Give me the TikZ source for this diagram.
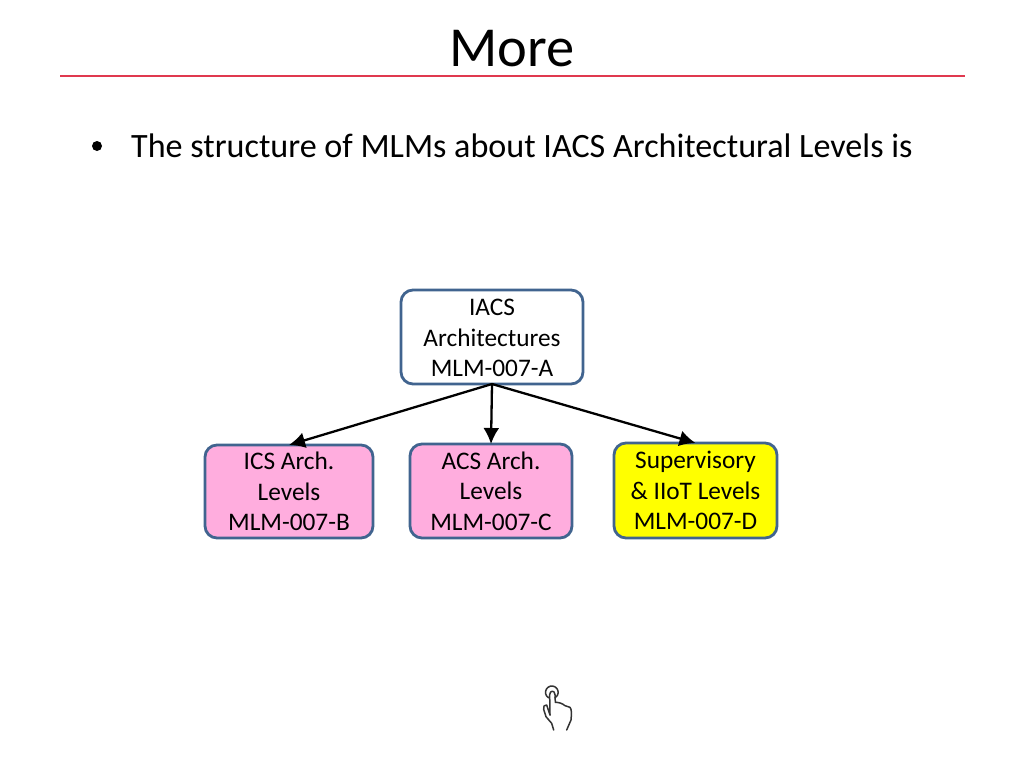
\documentclass[tikz,border=0pt]{standalone}
\usepackage{fontspec}
\setmainfont{Carlito}
\usetikzlibrary{arrows.meta}
\definecolor{edgeblue}{HTML}{41648F}
\definecolor{rulered}{HTML}{E0394F}
\definecolor{boxpink}{HTML}{FFADDE}
\definecolor{boxyellow}{HTML}{FFFF00}
\tikzset{
  mlmbox/.style={draw=edgeblue,line width=2.8pt,rounded corners=12pt,inner sep=0pt,outer sep=0pt,align=center,
    font=\fontsize{25.3}{30.6}\selectfont,text=black,anchor=north west},
  link/.style={draw=black,line width=2.3pt,-{Latex[length=16pt,width=16pt]}},
  handline/.style={draw=black!80,line width=1.5pt,line cap=round,line join=round}
}
\begin{document}
\begin{tikzpicture}[x=1pt,y=-1pt]
\useasboundingbox (0,0) rectangle (1024,768);
\fill[white] (0,0) rectangle (1024,768);
\node (title) at (512,48.5) {\fontsize{56.5}{62}\selectfont More};
\coordinate (ruleL) at (60,76);
\coordinate (ruleR) at (965,76);
\draw[rulered,line width=2pt] (ruleL) -- (ruleR);
\node[circle,fill=black,inner sep=0pt,minimum size=10pt] (bullet) at (97,146) {};
\node[anchor=base west,inner sep=0pt] (body) at (131,157) {\fontsize{34.1}{40}\selectfont The structure of MLMs about IACS Architectural Levels is};
\node[mlmbox,fill=white,minimum width=182pt,minimum height=94pt] (a) at (401,290) {\rule{0pt}{18.3pt}IACS\\Architectures\\MLM-007-A};
\node[mlmbox,fill=boxpink,minimum width=168pt,minimum height=93pt] (b) at (205,445) {ICS Arch.\\Levels\\MLM-007-B};
\node[mlmbox,fill=boxpink,minimum width=162pt,minimum height=94pt] (c) at (410,444) {ACS Arch.\\Levels\\MLM-007-C};
\node[mlmbox,fill=boxyellow,minimum width=163pt,minimum height=95pt] (d) at (614,443) {Supervisory\\\& IIoT Levels\\MLM-007-D};
\draw[link] (a.south) -- (b.north);
\draw[link] (a.south) -- (c.north);
\draw[link] (a.south) -- (d.north);
\begin{scope}[shift={(520,670)},x=0.3333pt,y=-0.3333pt]
\draw[handline] (86,83.5) arc[start angle=120,end angle=420,radius=19];
\draw[handline] (90,135) -- (89,74) .. controls (90,60) and (104,60) .. (105,74) -- (106,97)
  .. controls (118,97) and (126,100) .. (135,107) -- (150,112) .. controls (155,118) and (155,130) .. (153,150) -- (140,180);
\draw[handline] (90,135) -- (80,105) .. controls (72,103) and (70,110) .. (71,118) -- (78,140) -- (95,160) -- (101,180);
\end{scope}
\end{tikzpicture}
\end{document}
